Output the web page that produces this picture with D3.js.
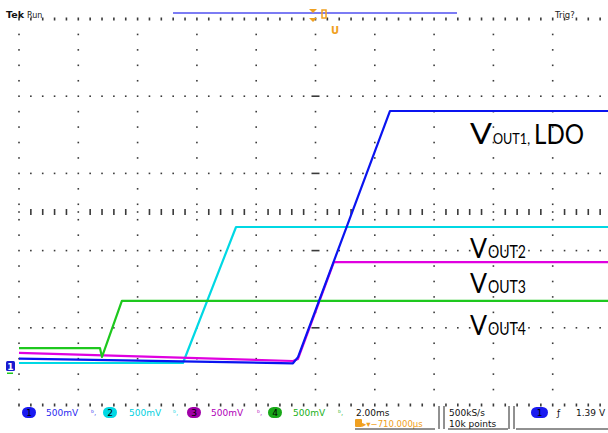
<!DOCTYPE html>
<html>
<head>
<meta charset="utf-8">
<script src="https://cdn.jsdelivr.net/npm/d3@7"></script>
<style>
  html, body { margin: 0; padding: 0; background: #fff; }
  svg { display: block; }
</style>
</head>
<body>
<div id="chart"></div>
<script>
var W = 608, H = 433;

// time in ms (2.00 ms/div), level in V (0.5 V per dotted row)
var ch1Time = [-10, -0.76, -0.59, 2.51, 10];
var ch1Volt = [0.30, 0.27, 0.31, 1.904, 1.904];
var ch2Time = [-10, -4.47, -2.68, 10];
var ch2Volt = [0.272, 0.272, 1.153, 1.153];
var ch3Time = [-10, -0.76, -0.59, 0.62, 10];
var ch3Volt = [0.337, 0.285, 0.298, 0.926, 0.926];
var ch4Time = [-10, -7.27, -7.20, -6.53, 10];
var ch4Volt = [0.369, 0.369, 0.311, 0.674, 0.674];

var traceColors = ['#00d8e4', '#e000e0', '#1ec81e', '#0a14f0'];
var labelNames = ['OUT1,', 'OUT2', 'OUT3', 'OUT4'];
var labelLevels = [1.69, 0.955, 0.725, 0.455];
var chanScales = ['500mV', '500mV', '500mV', '500mV'];

var svg = d3.select('#chart')
    .append('svg')
    .attr('width', W)
    .attr('height', H)
    .attr('viewBox', '0 0 ' + W + ' ' + H);

var x = d3.scaleLinear().domain([-10, 10]).range([19, 612]);
var y = d3.scaleLinear().domain([0, 2.5]).range([405, 19]);

var grid = svg.append('g').attr('fill', '#3a3a3a');

var cols = d3.range(-10, 11, 2);
var rows = d3.range(0, 2.51, 0.5);

// dots down each column
cols.forEach(function (t) {
    d3.range(0, 26).forEach(function (k) {
        var v = k * 0.1;
        if (k % 5 === 0) return;
        grid.append('rect')
            .attr('x', x(t) - 0.8).attr('y', y(v) - 0.8)
            .attr('width', 1.6).attr('height', 1.6);
    });
});

// dotted rows
rows.forEach(function (v) {
    d3.range(0, 51).forEach(function (k) {
        var t = -10 + k * 0.4;
        var edge = (v === 0 || v === 2.5);
        if (Math.abs(t) < 1e-6 && !edge) {
            grid.append('rect')
                .attr('x', x(0) - 4).attr('y', y(v) - 0.8)
                .attr('width', 8).attr('height', 1.6);
            return;
        }
        grid.append('rect')
            .attr('x', x(t) - 0.8).attr('y', y(v) - (edge ? 1.5 : 0.8))
            .attr('width', 1.6).attr('height', edge ? 3 : 1.6);
    });
});

// centre row with tall ticks
d3.range(0, 51).forEach(function (k) {
    var t = -10 + k * 0.4;
    var onCol = (k % 5 === 0);
    grid.append('rect')
        .attr('x', x(t) - 0.8).attr('y', y(1.25) - (onCol ? 0.8 : 3))
        .attr('width', 1.6).attr('height', onCol ? 1.6 : 6);
});

// traces
var line = d3.line()
    .x(function (d) { return x(d[0]); })
    .y(function (d) { return y(d[1]); });

var traces = [
    d3.zip(ch2Time, ch2Volt),
    d3.zip(ch3Time, ch3Volt),
    d3.zip(ch4Time, ch4Volt),
    d3.zip(ch1Time, ch1Volt)
];

svg.append('g')
    .selectAll('path')
    .data(traces)
    .enter().append('path')
    .attr('d', line)
    .attr('fill', 'none')
    .attr('stroke', function (d, i) { return traceColors[i]; })
    .attr('stroke-width', 2.2)
    .attr('stroke-linejoin', 'round');

// channel labels: "V" + small subscript part, each its own text
var labels = svg.append('g')
    .attr('font-family', 'Lato, "Noto Sans", sans-serif')
    .attr('fill', '#000');

labelNames.forEach(function (name, i) {
    var ly = y(labelLevels[i]);
    labels.append('text')
        .attr('x', 470).attr('y', ly)
        .attr('font-size', i === 0 ? 28 : 26)
        .attr('textLength', i === 0 ? 22 : 17)
        .attr('lengthAdjust', 'spacingAndGlyphs')
        .text('V');
    labels.append('text')
        .attr('x', i === 0 ? 493 : 488).attr('y', ly)
        .attr('font-size', i === 0 ? 15 : 16.5)
        .attr('textLength', i === 0 ? 37 : 38)
        .attr('lengthAdjust', 'spacingAndGlyphs')
        .text(name);
});
labels.append('text')
    .attr('x', 534)
    .attr('y', y(labelLevels[0]))
    .attr('font-size', 27)
    .attr('textLength', 50)
    .attr('lengthAdjust', 'spacingAndGlyphs')
    .text('LDO');

// ground marker, ch1
svg.append('rect')
    .attr('x', 6).attr('y', 361).attr('width', 9).attr('height', 10)
    .attr('rx', 1.5)
    .attr('fill', '#1a1ad0');
svg.append('text')
    .attr('x', 10.5).attr('y', 369.5)
    .attr('text-anchor', 'middle')
    .attr('font-family', 'DejaVu Sans, sans-serif')
    .attr('font-size', 9).attr('font-weight', 'bold')
    .attr('fill', '#fff').text('1');
svg.append('rect')
    .attr('x', 7).attr('y', 372.5).attr('width', 6).attr('height', 1.5)
    .attr('fill', '#1ec81e');

// header
var head = svg.append('g').attr('font-family', 'DejaVu Sans, sans-serif');
head.append('text').attr('x', 6).attr('y', 18)
    .attr('font-size', 9.5).attr('font-weight', 'bold').attr('fill', '#111').text('Tek');
head.append('text').attr('x', 27).attr('y', 18)
    .attr('font-size', 8).attr('fill', '#222').text('Run');
head.append('text').attr('x', 555).attr('y', 18)
    .attr('font-size', 8.5).attr('fill', '#222').text('Trig?');

svg.append('line')
    .attr('x1', 173).attr('x2', 457).attr('y1', 13).attr('y2', 13)
    .attr('stroke', '#5050f0').attr('stroke-width', 1.5);

var orange = '#f0a020';
svg.append('path').attr('d', 'M309,9 L317,9 L313,13 Z').attr('fill', orange);
svg.append('path').attr('d', 'M309,18 L317,18 L313,22 Z').attr('fill', orange);
svg.append('rect').attr('x', 322).attr('y', 10).attr('width', 4).attr('height', 8)
    .attr('fill', 'none').attr('stroke', orange).attr('stroke-width', 1.5);
svg.append('text').attr('x', 331).attr('y', 34)
    .attr('font-family', 'DejaVu Sans, sans-serif').attr('font-weight', 'bold')
    .attr('font-size', 10).attr('fill', orange).text('U');

// status bar
var bar = svg.append('g').attr('font-family', 'DejaVu Sans, sans-serif').attr('font-size', 9);
var pillColors = ['#1a1af0', '#00d8e4', '#a000a8', '#18a818'];
var pillX = [22, 103, 187, 268];
var scaleX = [46, 129, 211, 293];
var glyphX = [91, 173, 257, 338];
var textColors = ['#2a2af0', '#00d0e0', '#b000b8', '#18b018'];

pillX.forEach(function (px, i) {
    bar.append('rect')
        .attr('x', px).attr('y', 407).attr('width', 14).attr('height', 11)
        .attr('rx', 5.5).attr('fill', pillColors[i]);
    bar.append('text').attr('x', px + 7).attr('y', 416)
        .attr('text-anchor', 'middle').attr('fill', '#000').text(i + 1);
    bar.append('text').attr('x', scaleX[i]).attr('y', 416)
        .attr('fill', textColors[i]).text(chanScales[i]);
    bar.append('text').attr('x', glyphX[i]).attr('y', 415)
        .attr('font-size', 7).attr('fill', textColors[i]).text('ᵇ,');
});

bar.append('text').attr('x', 356).attr('y', 416).attr('fill', '#111').text('2.00ms');
bar.append('rect').attr('x', 355).attr('y', 419).attr('width', 7).attr('height', 8)
    .attr('rx', 1).attr('fill', orange);
bar.append('text').attr('x', 362).attr('y', 427).attr('font-size', 8.5)
    .attr('fill', orange).text('\u25B8\u25BE\u2212710.000\u00B5s');
bar.append('text').attr('x', 449).attr('y', 416).attr('fill', '#111').text('500kS/s');
bar.append('text').attr('x', 449).attr('y', 427).attr('fill', '#111').text('10k points');

bar.append('rect')
    .attr('x', 531).attr('y', 407).attr('width', 17).attr('height', 11)
    .attr('rx', 5.5).attr('fill', '#1a1af0');
bar.append('text').attr('x', 539.5).attr('y', 416)
    .attr('text-anchor', 'middle').attr('fill', '#000').text('1');
bar.append('text').attr('x', 557).attr('y', 416).attr('fill', '#111').text('\u0192');
bar.append('text').attr('x', 576).attr('y', 416).attr('fill', '#111').text('1.39 V');

var frame = bar.append('g').attr('stroke', '#222').attr('stroke-width', 1).attr('fill', 'none');
[[355, 435], [448, 508], [516, 608]].forEach(function (s) {
    frame.append('line').attr('x1', s[0]).attr('x2', s[1]).attr('y1', 429).attr('y2', 429);
});
[439, 444, 509, 514].forEach(function (sx) {
    frame.append('line').attr('x1', sx).attr('x2', sx).attr('y1', 406).attr('y2', 429);
});
</script>
</body>
</html>
